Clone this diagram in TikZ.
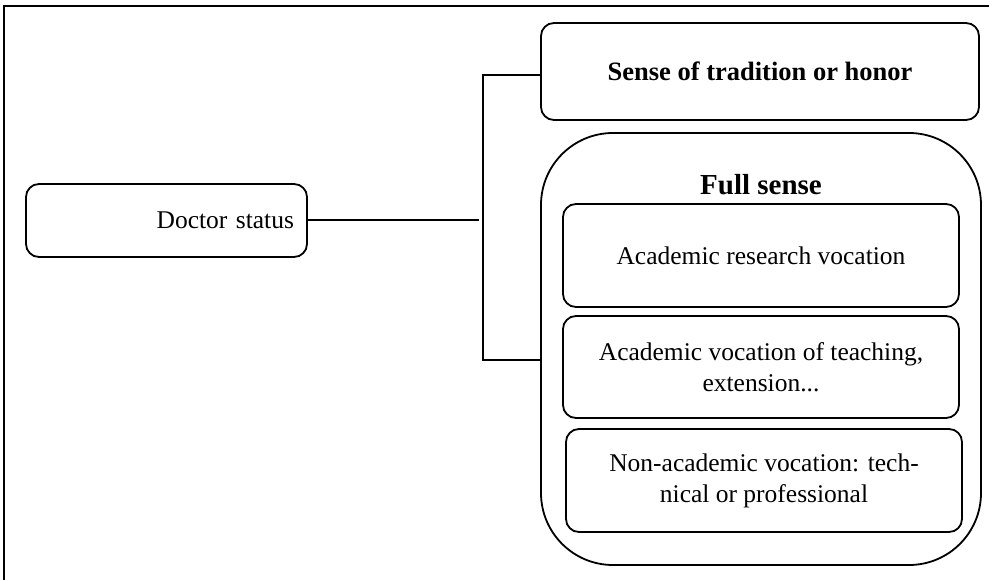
\documentclass[tikz,border=0pt]{standalone}
\usepackage{fontspec}
\setmainfont{Liberation Serif}
\begin{document}
\begin{tikzpicture}[x=1pt,y=-1pt,
  box/.style={draw,line width=1.8pt,rounded corners=13pt,inner sep=0pt,align=center,
    font=\fontsize{25.5}{31}\selectfont},
  conn/.style={line width=2pt},
  frameline/.style={line width=2pt}]
\useasboundingbox (0,0) rectangle (989,580);
\draw[frameline] (3.5,580) -- (3.5,6) -- (989,6);
\node[box,minimum width=281pt,minimum height=73pt,text width=255pt,inner xsep=13pt,align=right] (doc) at (166.5,220.5) {Doctor status};
\node[box,minimum width=438pt,minimum height=97pt,font=\fontsize{26.5}{31}\selectfont\bfseries] (sense) at (760,71.5) {Sense of tradition or honor};
\node[box,rounded corners=72pt,minimum width=440pt,minimum height=432pt] (full) at (761,349) {};
\node[inner sep=0pt,anchor=base,font=\fontsize{29}{34}\selectfont\bfseries] (fulltitle) at (761,195) {Full sense};
\node[box,minimum width=396pt,minimum height=103pt] (in1) at (761,255.5) {Academic research vocation};
\node[box,minimum width=396pt,minimum height=102pt] (in2) at (761,367) {Academic vocation of teaching,\\extension...};
\node[box,minimum width=396pt,minimum height=103pt] (in3) at (764,480.5) {Non-academic vocation: tech-\\nical or professional};
\coordinate (jt) at (483,75);
\coordinate (jb) at (483,360);
\coordinate (jm) at (479,220.5);
\draw[conn] (sense.west |- jt) -- (jt) -- (jb) -- (full.west |- jb);
\draw[conn] (doc.east) -- (jm);
\end{tikzpicture}
\end{document}
